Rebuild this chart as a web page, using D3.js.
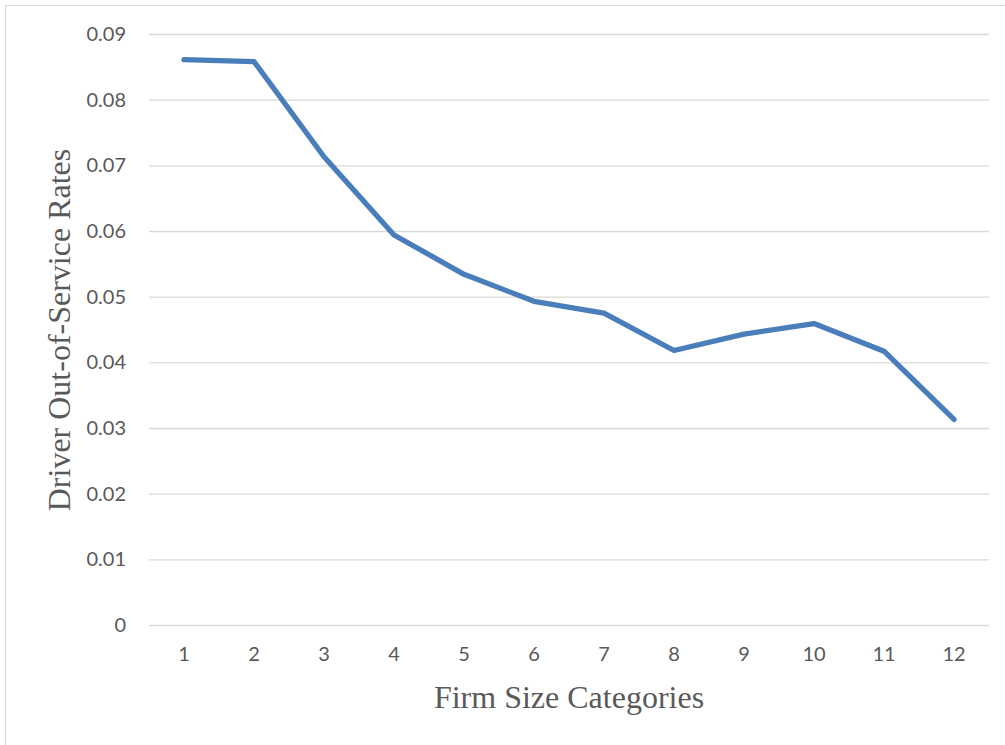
<!DOCTYPE html>
<html>
<head>
<meta charset="utf-8">
<script src="https://cdn.jsdelivr.net/npm/d3@7"></script>
<style>
  html, body { margin: 0; padding: 0; background: #fff; }
  svg { display: block; }
</style>
</head>
<body>
<script>
// Firm size categories and driver out-of-service rates
const categories = ["1", "2", "3", "4", "5", "6", "7", "8", "9", "10", "11", "12"];
const rates = [0.0861, 0.0858, 0.0713, 0.0594, 0.0534, 0.0493, 0.0475, 0.0418, 0.0443, 0.0459, 0.0417, 0.0313];
const yTicks = [0, 0.01, 0.02, 0.03, 0.04, 0.05, 0.06, 0.07, 0.08, 0.09];
const yTickLabels = ["0", "0.01", "0.02", "0.03", "0.04", "0.05", "0.06", "0.07", "0.08", "0.09"];
const xTitle = "Firm Size Categories";
const yTitle = "Driver Out-of-Service Rates";

const W = 1005, H = 745;
const plot = { left: 149, right: 989, top: 34, bottom: 625 };

const svg = d3.select("body").append("svg")
  .attr("width", W).attr("height", H);

// outer chart frame
svg.append("rect")
  .attr("x", 5.5).attr("y", 5.5)
  .attr("width", W + 10).attr("height", H + 10)
  .attr("fill", "none").attr("stroke", "#d9d9d9").attr("stroke-width", 1);

const x = d3.scaleBand().domain(categories).range([plot.left, plot.right]);
const y = d3.scaleLinear().domain([0, 0.09]).range([plot.bottom, plot.top]);

// horizontal gridlines with value labels
const yAxis = d3.axisLeft(y)
  .tickValues(yTicks)
  .tickFormat((d, i) => yTickLabels[i])
  .tickSize(-(plot.right - plot.left))
  .tickPadding(23);

const gy = svg.append("g")
  .attr("transform", `translate(${plot.left},0)`)
  .call(yAxis);
gy.select(".domain").remove();
gy.selectAll(".tick line").attr("stroke", "#d9d9d9").attr("stroke-width", 1.3);
gy.selectAll(".tick text")
  .attr("fill", "#595959")
  .style("font-family", "Lato, 'Open Sans', sans-serif")
  .style("font-size", "20px");

// category labels
const xAxis = d3.axisBottom(x).tickSize(0).tickPadding(22);
const gx = svg.append("g")
  .attr("transform", `translate(0,${plot.bottom})`)
  .call(xAxis);
gx.select(".domain").remove();
gx.selectAll(".tick text")
  .attr("fill", "#595959")
  .style("font-family", "Lato, 'Open Sans', sans-serif")
  .style("font-size", "20px");

// rate line
const line = d3.line()
  .x((d, i) => x(categories[i]) + x.bandwidth() / 2)
  .y(d => y(d));

svg.append("path")
  .datum(rates)
  .attr("d", line)
  .attr("fill", "none")
  .attr("stroke", "#4a7ebb")
  .attr("stroke-width", 5.3)
  .attr("stroke-linejoin", "round")
  .attr("stroke-linecap", "round");

// axis titles
svg.append("text")
  .attr("x", (plot.left + plot.right) / 2)
  .attr("y", 708)
  .attr("text-anchor", "middle")
  .attr("fill", "#595959")
  .style("font-family", "'Liberation Serif', 'Times New Roman', serif")
  .style("font-size", "32px")
  .text(xTitle);

svg.append("text")
  .attr("transform", "translate(70,330) rotate(-90)")
  .attr("text-anchor", "middle")
  .attr("fill", "#595959")
  .style("font-family", "'Liberation Serif', 'Times New Roman', serif")
  .style("font-size", "32px")
  .text(yTitle);
</script>
</body>
</html>
